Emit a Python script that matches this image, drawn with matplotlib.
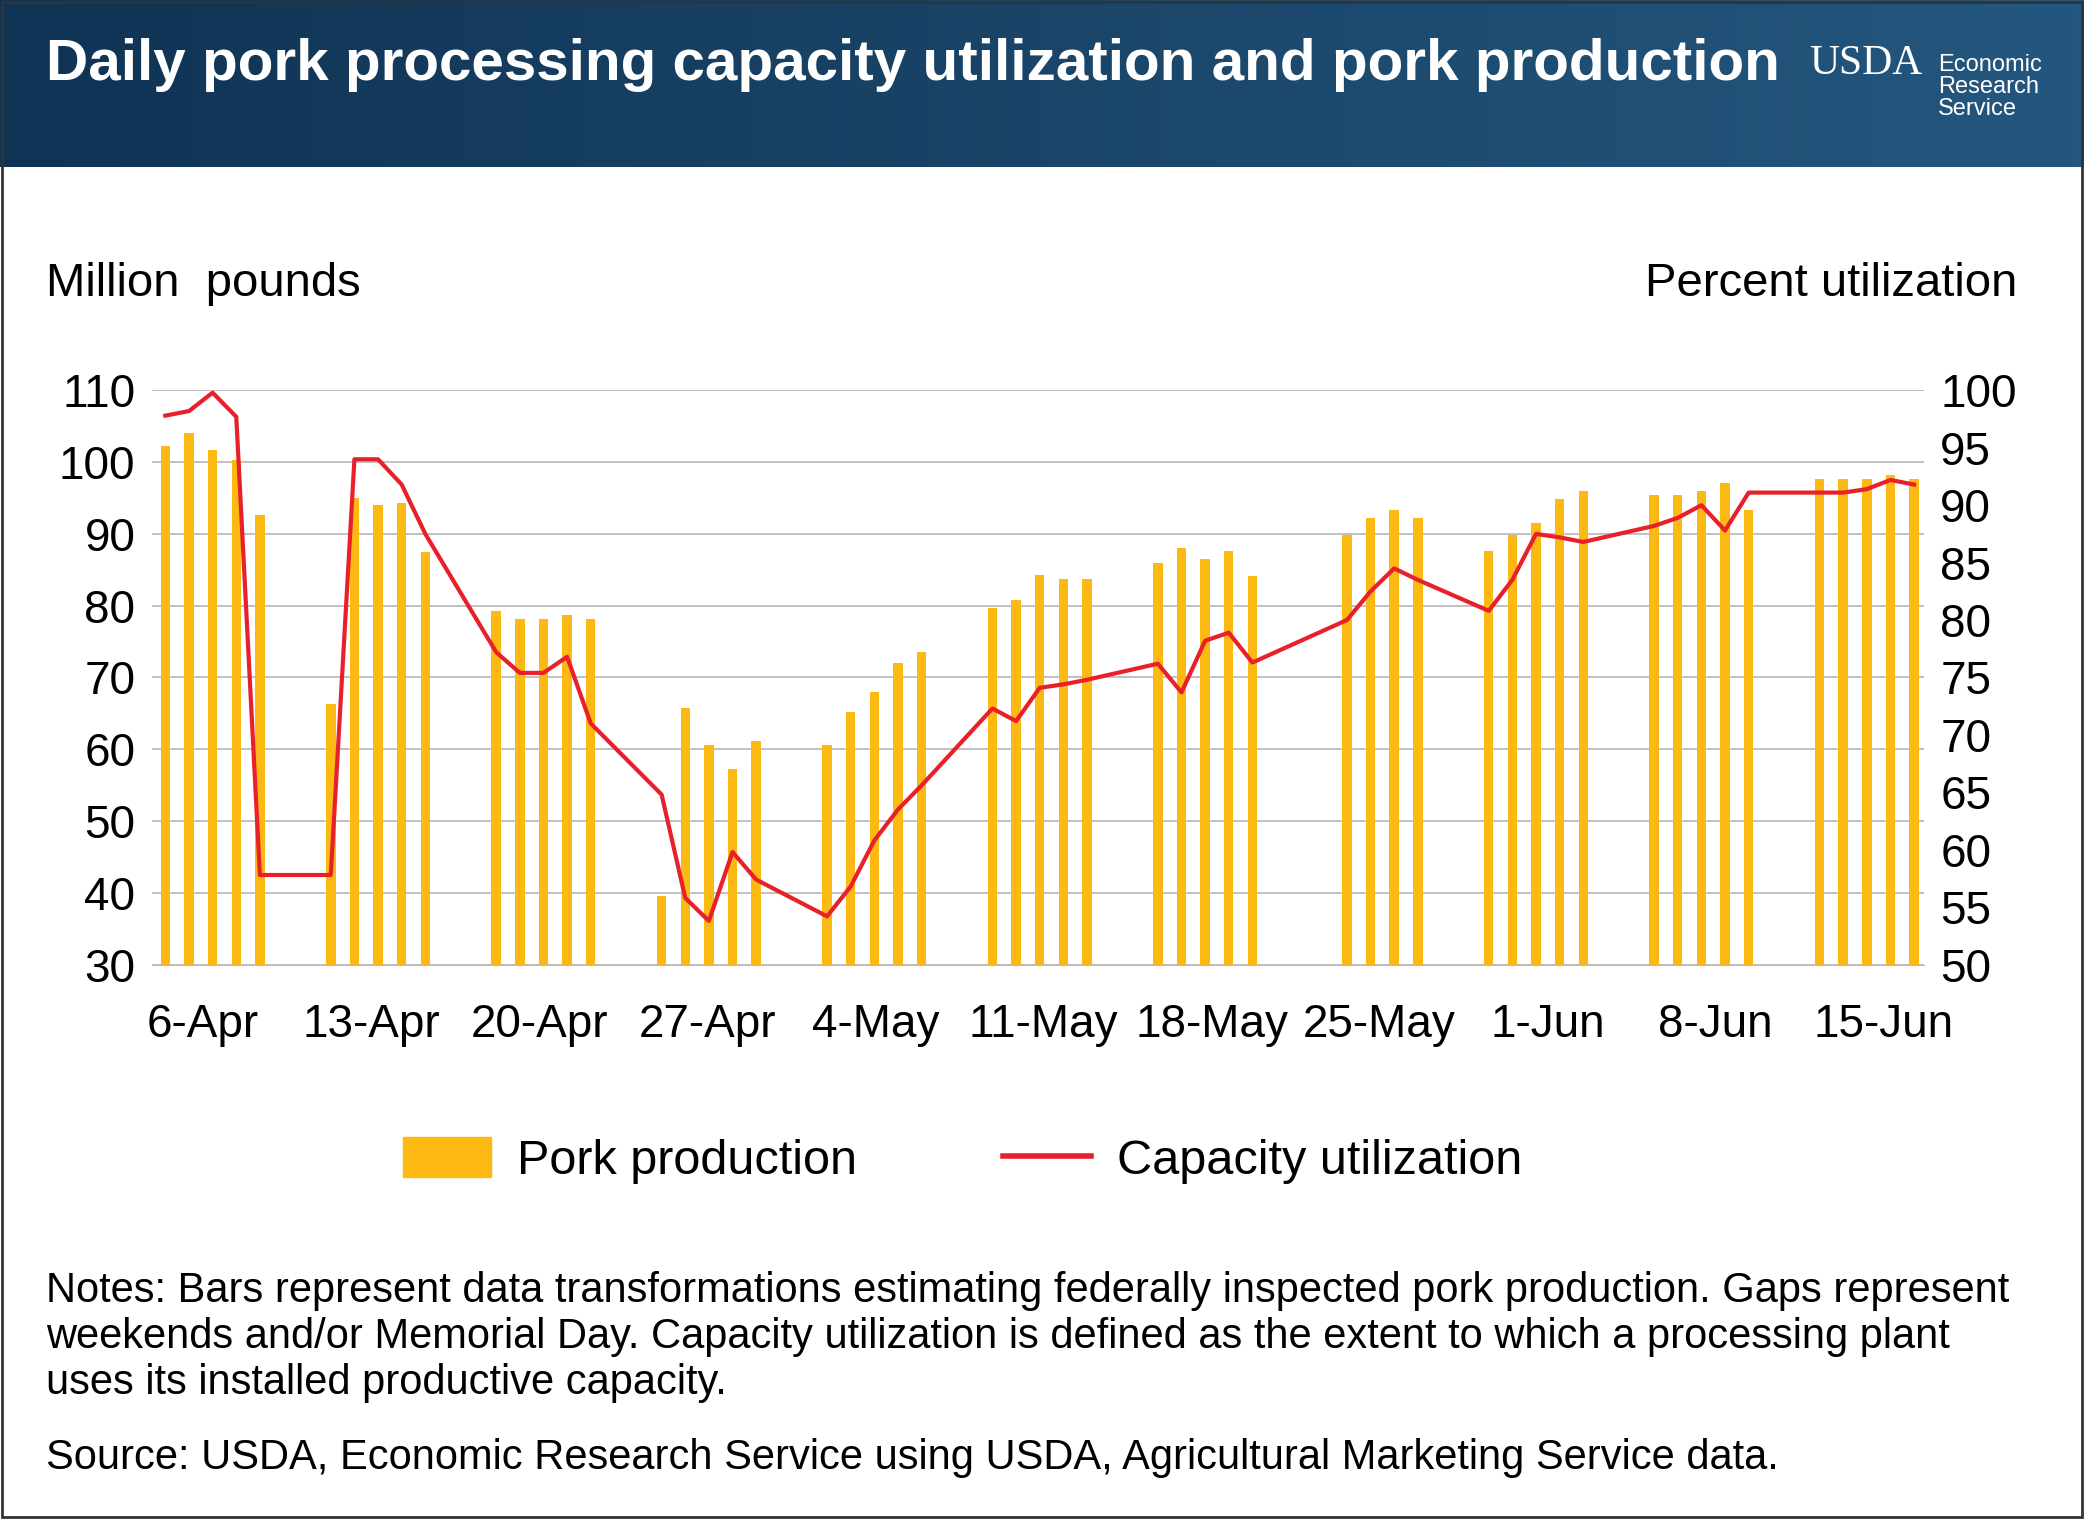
import numpy as np
import matplotlib
matplotlib.use('Agg')
import matplotlib.pyplot as plt
from matplotlib.patches import Patch
from matplotlib.lines import Line2D
from matplotlib.colors import LinearSegmentedColormap

plt.rcParams['font.family'] = ['Liberation Sans', 'DejaVu Sans']

# days since 6-Apr (weekdays only), Memorial Day (25-May) has no data
week_starts = [0, 7, 14, 21, 28, 35, 42, 49, 56, 63, 70]
week_labels = ['6-Apr', '13-Apr', '20-Apr', '27-Apr', '4-May', '11-May',
               '18-May', '25-May', '1-Jun', '8-Jun', '15-Jun']

production = [
    [102.3, 104.0, 101.7, 100.3, 92.7],
    [66.3, 95.0, 94.0, 94.3, 87.5],
    [79.2, 78.2, 78.2, 78.7, 78.2],
    [39.6, 65.8, 60.6, 57.3, 61.2],
    [60.6, 65.2, 68.0, 72.0, 73.6],
    [79.7, 80.8, 84.3, 83.7, 83.7],
    [85.9, 88.1, 86.5, 87.6, 84.2],
    [None, 89.8, 92.2, 93.3, 92.2],
    [87.6, 89.8, 91.5, 94.9, 96.0],
    [95.4, 95.4, 96.0, 97.1, 93.3],
    [97.6, 97.6, 97.6, 98.2, 97.6],
]
utilization = [
    [97.8, 98.2, 99.8, 97.7, 57.8],
    [57.8, 94.0, 94.0, 91.8, 87.5],
    [77.2, 75.4, 75.4, 76.8, 71.0],
    [64.8, 55.8, 53.8, 59.8, 57.4],
    [54.2, 56.8, 60.8, 63.5, 65.6],
    [72.3, 71.2, 74.1, 74.4, 74.8],
    [76.2, 73.7, 78.2, 78.9, 76.3],
    [None, 80.0, 82.5, 84.5, 83.5],
    [80.8, 83.5, 87.5, 87.2, 86.8],
    [88.2, 88.9, 90.0, 87.8, 91.1],
    [91.1, 91.1, 91.4, 92.2, 91.8],
]

bx, by, lx, ly = [], [], [], []
for ws, prod, util in zip(week_starts, production, utilization):
    for d in range(5):
        if prod[d] is not None:
            bx.append(ws + d); by.append(prod[d])
        if util[d] is not None:
            lx.append(ws + d); ly.append(util[d])

GOLD = '#FDB913'
RED = '#E8202A'

fig = plt.figure(figsize=(20.84, 15.19), dpi=100)

# banner
bn = fig.add_axes([0, 0.89, 1, 0.11])
grad = np.linspace(0, 1, 256).reshape(1, -1)
cm = LinearSegmentedColormap.from_list('b', ['#0f3354', '#1a4568', '#24577f'])
bn.imshow(grad, aspect='auto', cmap=cm, extent=[0, 1, 0, 1])
bn.set_axis_off()
fig.text(0.022, 0.957, 'Daily pork processing capacity utilization and pork production',
         color='white', fontsize=42, fontweight='bold', va='center')
fig.text(0.868, 0.958, 'USDA', color='white', fontsize=30, family='Liberation Serif', va='center')
fig.text(0.93, 0.943, 'Economic\nResearch\nService', color='white', fontsize=17,
         va='center', linespacing=1.0)

ax = fig.add_axes([0.073, 0.365, 0.85, 0.378])
ax.bar(bx, [v - 30 for v in by], bottom=30, width=0.4, color=GOLD, zorder=2)
ax.set_ylim(30, 110)
ax.set_yticks(range(30, 111, 10))
ax.set_xlim(-0.56, 74.4)
ax.grid(axis='y', color='#bbbbbb', lw=1.3, zorder=0)
for s in ['top', 'right', 'left']:
    ax.spines[s].set_visible(False)
ax.spines['bottom'].set_color('#bbbbbb')
ax.set_xticks([w * 1.016 + 1.6 for w in week_starts])
ax.set_xticklabels(week_labels)
ax.tick_params(axis='both', length=0, labelsize=33, pad=12)
ax.tick_params(axis='x', pad=28)

ax2 = ax.twinx()
ax2.plot(lx, ly, color=RED, lw=3, zorder=3)
ax2.set_ylim(50, 100)
ax2.set_yticks(range(50, 101, 5))
ax2.tick_params(axis='y', length=0, labelsize=33, pad=12)
for s in ax2.spines.values():
    s.set_visible(False)

fig.text(0.022, 0.813, 'Million  pounds', fontsize=34, va='center')
fig.text(0.968, 0.813, 'Percent utilization', fontsize=34, va='center', ha='right')

handles = [Patch(color=GOLD, label='Pork production'),
           Line2D([0], [0], color=RED, lw=4, label='Capacity utilization')]
fig.legend(handles=handles, loc='center', bbox_to_anchor=(0.462, 0.236), ncol=2,
           frameon=False, fontsize=35, handlelength=1.8, handleheight=0.9,
           columnspacing=3.0, handletextpad=0.55)

fig.text(0.022, 0.163, 'Notes: Bars represent data transformations estimating federally inspected pork production. Gaps represent\n'
         'weekends and/or Memorial Day. Capacity utilization is defined as the extent to which a processing plant\n'
         'uses its installed productive capacity.', fontsize=30, va='top', linespacing=1.18)
fig.text(0.022, 0.04, 'Source: USDA, Economic Research Service using USDA, Agricultural Marketing Service data.',
         fontsize=30, va='center')

fig.add_artist(plt.Rectangle((0.001, 0.001), 0.998, 0.998, transform=fig.transFigure,
                             fill=False, ec='#333333', lw=2))

fig.savefig('out.png', dpi=100)
